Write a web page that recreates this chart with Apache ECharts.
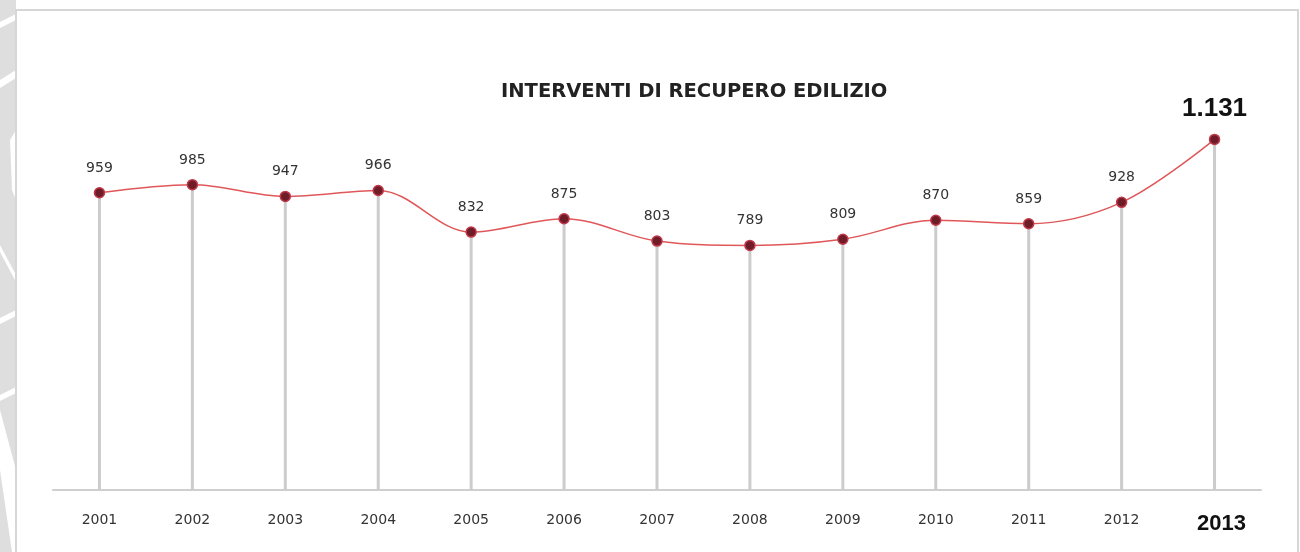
<!DOCTYPE html>
<html><head><meta charset="utf-8">
<script src="https://cdn.jsdelivr.net/npm/echarts@6/dist/echarts.min.js"></script>
<style>html,body{margin:0;padding:0;background:#fff}#c{width:1300px;height:552px}</style>
</head><body><div id="c"></div>
<script>
const years = ['2001','2002','2003','2004','2005','2006','2007','2008','2009','2010','2011','2012','2013'];
const values = [959, 985, 947, 966, 832, 875, 803, 789, 809, 870, 859, 928, 1131];
const valueLabels = ['959','985','947','966','832','875','803','789','809','870','859','928','1.131'];
const titleText = 'INTERVENTI DI RECUPERO EDILIZIO';

const chart = echarts.init(document.getElementById('c'));
const lastIdx = years.length - 1;
chart.setOption({
  animation: false,
  title: { text: titleText, left: 496, top: 77,
    textStyle: { fontFamily: 'DejaVu Sans', fontSize: 19.5, fontWeight: 'bold', color: '#222' } },
  graphic: [
    { type: 'rect', shape: { x: 0, y: 0, width: 16, height: 552 }, style: { fill: '#dedede' }, z: -1 },
    { type: 'polygon', shape: { points: [[0,22],[16,14],[16,20],[0,28]] }, style: { fill: '#fff' } },
    { type: 'polygon', shape: { points: [[0,80],[16,70],[16,78],[0,88]] }, style: { fill: '#fff' } },
    { type: 'polygon', shape: { points: [[10,140],[16,130],[16,200],[12,190]] }, style: { fill: '#fff' } },
    { type: 'polygon', shape: { points: [[0,245],[16,275],[16,282],[0,252]] }, style: { fill: '#fff' } },
    { type: 'polygon', shape: { points: [[0,318],[16,310],[16,316],[0,324]] }, style: { fill: '#fff' } },
    { type: 'polygon', shape: { points: [[0,395],[16,387],[16,393],[0,401]] }, style: { fill: '#fff' } },
    { type: 'polygon', shape: { points: [[0,410],[16,470],[16,552],[12,552],[0,470]] }, style: { fill: '#fff' } },
    { type: 'rect', shape: { x: 16, y: 10, width: 1282, height: 560 }, style: { fill: 'none', stroke: '#d6d6d6', lineWidth: 2 } }
  ],
  grid: { left: 53, right: 39, top: 118, bottom: 62 },
  xAxis: {
    type: 'category', data: years, boundaryGap: true,
    axisLine: { lineStyle: { color: '#cfcfcf', width: 2 } },
    axisTick: { show: false },
    axisLabel: {
      margin: 23, color: '#333', fontFamily: 'DejaVu Sans', fontSize: 14,
      formatter: (v, i) => i === lastIdx ? '{b|' + v + '}' : v,
      rich: { b: { fontSize: 22, fontWeight: 'bold', color: '#111', fontFamily: 'Liberation Sans, Arial', padding: [0, 0, 6, 14] } }
    }
  },
  yAxis: { type: 'value', min: 0, max: 1200, show: false, splitLine: { show: false } },
  series: [
    { type: 'bar', data: values, barWidth: 3, itemStyle: { color: '#cccccc' }, silent: true, z: 1 },
    { type: 'line', data: values, smooth: 0.35, symbol: 'circle', symbolSize: 10, z: 3,
      lineStyle: { color: '#e0575a', width: 1.5 },
      itemStyle: { color: '#6e1c28', borderColor: '#c0394a', borderWidth: 1.5 },
      label: { show: true, position: 'top', distance: 12, color: '#333', fontFamily: 'DejaVu Sans', fontSize: 14,
        formatter: p => p.dataIndex === lastIdx ? '{b|' + valueLabels[p.dataIndex] + '}' : valueLabels[p.dataIndex],
        rich: { b: { fontSize: 26, fontWeight: 'bold', color: '#111', fontFamily: 'Liberation Sans, Arial' } } }
    }
  ]
});
</script></body></html>
